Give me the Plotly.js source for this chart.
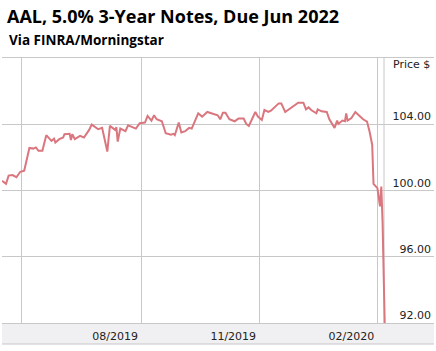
<!DOCTYPE html>
<html>
<head>
<meta charset="utf-8">
<script src="https://cdn.plot.ly/plotly-3.0.1.min.js"></script>
<style>html,body{margin:0;padding:0;background:#fff;}#chart{width:436px;height:351px;}</style>
</head>
<body>
<div id="chart"></div>
<script>
const dates = [
"2019-05-17","2019-05-20","2019-05-22","2019-05-25","2019-05-28","2019-05-31","2019-06-03","2019-06-07","2019-06-10","2019-06-12",
"2019-06-14","2019-06-17","2019-06-20","2019-06-24","2019-06-26","2019-06-27","2019-06-30","2019-07-03","2019-07-04","2019-07-08",
"2019-07-09","2019-07-10","2019-07-12","2019-07-16","2019-07-19","2019-07-23","2019-07-25","2019-07-28","2019-07-30","2019-08-02",
"2019-08-06","2019-08-08","2019-08-12","2019-08-13","2019-08-14","2019-08-16","2019-08-20","2019-08-22","2019-08-25","2019-08-28",
"2019-08-31","2019-09-04","2019-09-06","2019-09-09","2019-09-11","2019-09-13","2019-09-17","2019-09-20","2019-09-24","2019-09-26",
"2019-09-27","2019-09-30","2019-10-02","2019-10-05","2019-10-08","2019-10-10","2019-10-15","2019-10-18","2019-10-22","2019-10-27",
"2019-10-30","2019-11-01","2019-11-03","2019-11-05","2019-11-08","2019-11-12","2019-11-15","2019-11-19","2019-11-21","2019-11-23",
"2019-11-25","2019-11-28","2019-11-30","2019-12-03","2019-12-05","2019-12-08","2019-12-10","2019-12-13","2019-12-16","2019-12-18",
"2019-12-21","2019-12-31","2020-01-04","2020-01-06","2020-01-08","2020-01-10","2020-01-14","2020-01-15","2020-01-18","2020-01-22",
"2020-01-24","2020-01-28","2020-01-30","2020-01-31","2020-02-03","2020-02-05","2020-02-06","2020-02-07","2020-02-10","2020-02-13",
"2020-02-16","2020-02-19","2020-02-22","2020-02-24","2020-02-26","2020-02-27","2020-03-01","2020-03-03","2020-03-04","2020-03-05",
"2020-03-06 18:00"
];
const prices = [
100.58,100.40,100.90,100.93,100.80,101.13,101.20,102.57,102.53,102.60,
102.40,102.40,103.34,103.00,103.13,102.90,103.10,103.20,103.40,103.42,
103.05,103.40,103.10,103.30,103.20,103.66,103.98,103.82,103.70,103.78,
102.35,103.90,103.66,103.82,102.95,103.74,103.58,103.94,103.86,103.74,
104.06,104.10,104.50,104.22,104.54,104.30,104.18,103.46,103.37,103.42,
103.34,104.10,103.50,103.58,103.78,103.74,104.66,104.46,104.74,104.62,
104.54,104.30,104.70,104.70,104.30,104.18,104.34,104.34,104.02,103.90,
104.26,104.74,104.46,104.26,104.86,104.74,104.82,105.02,105.26,105.26,
104.74,105.30,105.30,104.90,105.02,104.86,104.66,104.90,104.78,104.74,
104.30,103.78,104.22,104.02,104.22,104.18,104.66,104.22,104.38,104.74,
104.50,104.30,104.16,103.55,102.75,100.40,100.14,99.04,100.24,98.04,
91.5
];
const xTickVals = ["2019-09-01","2019-12-01","2020-03-01"];
const xTickText = ["08/2019","11/2019","02/2020"];
const xGridVals = ["2019-06-01","2019-09-01","2019-12-01","2020-03-01"];
const yTickVals = [92,96,100,104];
const yTickText = ["92.00","96.00","100.00","104.00"];
const titleText = "AAL, 5.0% 3-Year Notes, Due Jun 2022";
const subtitleText = "Via FINRA/Morningstar";
const yUnitText = "Price $";

const gridCol = "#c8c8c8";
const W = 436, H = 351, mL = 2, mR = 2, mT = 58, mB = 28;
const plotW = W - mL - mR, plotH = H - mT - mB;
const bandH = 21;

const trace = {
  x: dates, y: prices, type: "scatter", mode: "lines",
  line: {color: "#da767e", width: 2}, hoverinfo: "skip"
};
const layout = {
  width: W, height: H,
  margin: {l: mL, r: mR, t: mT, b: mB, pad: 0},
  paper_bgcolor: "#fff", plot_bgcolor: "#fff",
  showlegend: false,
  title: {text: titleText, x: 7/W, xanchor: "left", xref: "container",
          y: 1 - 17/H, yanchor: "middle", yref: "container",
          font: {family: "Open Sans", size: 18, color: "#000", weight: 700}},
  xaxis: {
    type: "date", range: ["2019-05-16 21:36", "2020-04-13 14:00"],
    tickvals: xTickVals, ticktext: xTickText,
    ticks: "", showgrid: false, zeroline: false,
    showline: true, mirror: true, linecolor: gridCol, linewidth: 1,
    ticklabelshift: -26, ticklabelstandoff: 3,
    tickfont: {family: "DejaVu Sans", size: 11, color: "#222"},
    fixedrange: true
  },
  xaxis2: {
    type: "date", overlaying: "x", matches: "x",
    tickvals: xGridVals, showticklabels: false, ticks: "",
    showgrid: true, gridcolor: gridCol, gridwidth: 1, zeroline: false
  },
  yaxis: {
    range: [92, 108], side: "right",
    tickvals: yTickVals, ticktext: yTickText,
    ticklabelposition: "inside top", ticks: "",
    showgrid: true, gridcolor: gridCol, gridwidth: 1, zeroline: false,
    showline: false,
    tickfont: {family: "DejaVu Sans", size: 11, color: "#222"},
    fixedrange: true
  },
  shapes: [
    {type: "rect", xref: "paper", yref: "paper", x0: 0, x1: 1,
     y0: -bandH/plotH, y1: 0, fillcolor: "#f0f0f2", line: {width: 0}, layer: "below"},
    {type: "line", xref: "paper", yref: "paper", x0: 0, x1: 1,
     y0: -bandH/plotH, y1: -bandH/plotH, line: {color: gridCol, width: 1}},
    {type: "line", xref: "paper", yref: "paper", x0: (384 - mL)/plotW, x1: (384 - mL)/plotW,
     y0: 0, y1: 1, line: {color: gridCol, width: 1}, layer: "below"}
  ],
  annotations: [
    {text: subtitleText, xref: "paper", yref: "paper",
     x: (7 - mL)/plotW, xanchor: "left", y: 1 + (mT - 40)/plotH, yanchor: "middle",
     showarrow: false, font: {family: "Open Sans", size: 13.5, color: "#000", weight: 700}},
    {text: yUnitText, xref: "paper", yref: "paper",
     x: (432 - mL)/plotW, xanchor: "right", y: 1 - (64 - mT)/plotH, yanchor: "middle",
     showarrow: false, font: {family: "DejaVu Sans", size: 11, color: "#222"}}
  ]
};
const gridTrace = {x: [xGridVals[0]], y: [100], xaxis: "x2", yaxis: "y", mode: "none",
                   type: "scatter", hoverinfo: "skip", showlegend: false};
Plotly.newPlot("chart", [gridTrace, trace], layout, {staticPlot: true, displayModeBar: false});
</script>
</body>
</html>
